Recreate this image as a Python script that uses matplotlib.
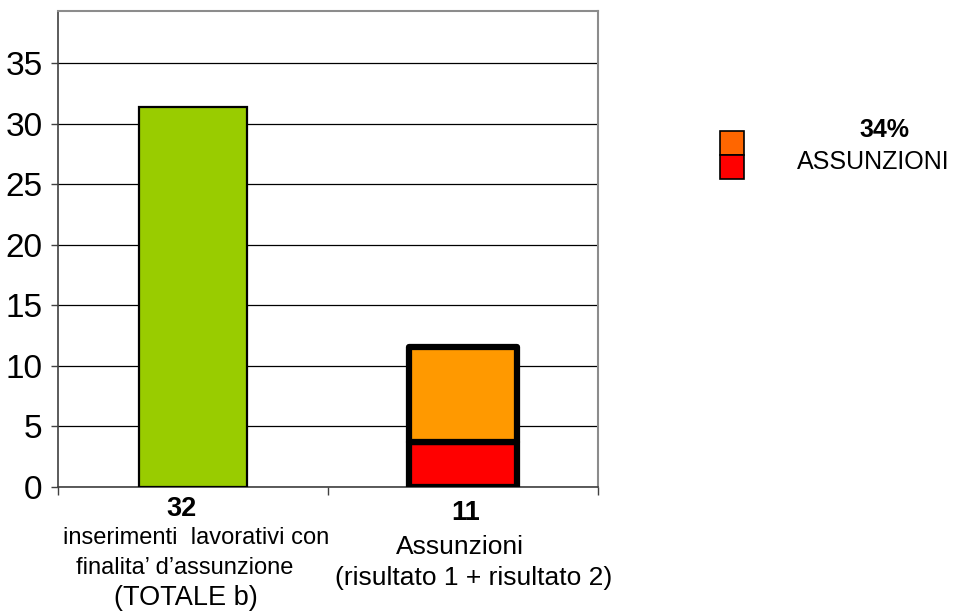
import matplotlib.pyplot as plt
from matplotlib.patches import Rectangle

# values
categories = ["totale", "assunzioni"]
totale_b = [31.4]
risultato_2 = [3.7]      # red part
risultato_1 = [7.9]      # orange part on top
bar_numbers = ["32", "11"]
label_lines = [
    ["inserimenti  lavorativi con", "finalita\u2019 d\u2019assunzione", "(TOTALE b)"],
    ["Assunzioni", "(risultato 1 + risultato 2)"],
]
legend_pct = "34%"
legend_text = "ASSUNZIONI"
yticks = [0, 5, 10, 15, 20, 25, 30, 35]

plt.rcParams['font.family'] = ['Liberation Sans', 'DejaVu Sans']

W, H = 965, 613
fig = plt.figure(figsize=(W / 100, H / 100), dpi=100)
ax = fig.add_axes([58 / W, 1 - 487 / H, (598 - 58) / W, (487 - 11) / H])

ax.bar([0], totale_b, width=0.4, color="#99CC00", edgecolor="black", linewidth=1.6, zorder=3)
ax.bar([1], risultato_2, width=0.4, color="#FF0000", edgecolor="black", linewidth=4.5,
       joinstyle="round", zorder=3)
ax.bar([1], risultato_1, bottom=risultato_2, width=0.4, color="#FF9900", edgecolor="black",
       linewidth=4.5, joinstyle="round", zorder=3)

ax.set_xlim(-0.5, 1.5)
ax.set_ylim(0, 39.3)
ax.set_yticks(yticks)
ax.set_yticklabels([str(t) for t in yticks], fontsize=24)
ax.yaxis.grid(True, color="black", linewidth=0.9)
ax.set_axisbelow(True)
ax.set_xticks([-0.5, 0.5, 1.5])
ax.set_xticklabels([])
ax.tick_params(axis="y", length=5, width=1, color="#404040", pad=6)
ax.tick_params(axis="x", length=6, width=1, color="#404040")
for s in ["top", "right"]:
    ax.spines[s].set_color("#8c8c8c")
    ax.spines[s].set_linewidth(1.5)
ax.spines["left"].set_color("#404040")
ax.spines["left"].set_linewidth(1.2)
ax.spines["bottom"].set_color("#404040")
ax.spines["bottom"].set_linewidth(1.2)

# category labels under the bars
def fy(px):
    return 1 - px / H

fig.text(181 / W, fy(509), bar_numbers[0], ha="center", va="center", fontsize=19.5, fontweight="bold")
fig.text(196 / W, fy(538), label_lines[0][0], ha="center", va="center", fontsize=17)
fig.text(185 / W, fy(568), label_lines[0][1], ha="center", va="center", fontsize=17)
fig.text(186 / W, fy(598), label_lines[0][2], ha="center", va="center", fontsize=19.5)
fig.text(466 / W, fy(513), bar_numbers[1], ha="center", va="center", fontsize=19.5, fontweight="bold")
fig.text(460 / W, fy(547), label_lines[1][0], ha="center", va="center", fontsize=19)
fig.text(474 / W, fy(578), label_lines[1][1], ha="center", va="center", fontsize=19)

# legend box
fig.add_artist(Rectangle((720 / W, fy(155)), 24 / W, 24 / H, transform=fig.transFigure,
                         facecolor="#FF6600", edgecolor="black", linewidth=1.2))
fig.add_artist(Rectangle((720 / W, fy(179)), 24 / W, 24 / H, transform=fig.transFigure,
                         facecolor="#FF0000", edgecolor="black", linewidth=1.2))
fig.text(884 / W, fy(130), legend_pct, ha="center", va="center", fontsize=18, fontweight="bold")
fig.text(873 / W, fy(162), legend_text, ha="center", va="center", fontsize=18)

fig.savefig("out.png", dpi=100)
